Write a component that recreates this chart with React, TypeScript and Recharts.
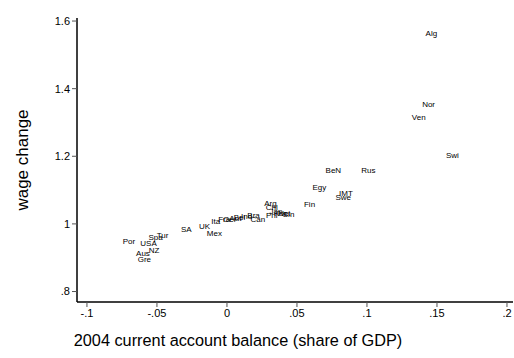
import { ScatterChart, Scatter, XAxis, YAxis } from "recharts";

// country labels with 2004 current account balance and wage change
const countries = [
  "Alg", "Nor", "Ven", "Swi", "BeN", "Rus", "Egy", "IMT", "Swe", "Fin",
  "Arg", "Chl", "Jap", "Kor", "Net", "Sin", "Phi", "Can", "Bra", "Ind",
  "Bel", "Aut", "Ger", "Fra", "Ita", "UK", "Mex", "SA", "Tur", "Spa",
  "Por", "USA", "NZ", "Aus", "Gre",
];
const balance = [
  0.146, 0.144, 0.137, 0.161, 0.076, 0.101, 0.066, 0.085, 0.083, 0.059,
  0.031, 0.032, 0.035, 0.038, 0.041, 0.044, 0.032, 0.022, 0.019, 0.014,
  0.009, 0.006, 0.002, -0.002, -0.008, -0.016, -0.009, -0.029, -0.046, -0.051,
  -0.07, -0.056, -0.052, -0.06, -0.059,
];
const wageChange = [
  1.565, 1.355, 1.317, 1.204, 1.16, 1.16, 1.109, 1.092, 1.08, 1.059,
  1.062, 1.05, 1.038, 1.033, 1.033, 1.03, 1.027, 1.015, 1.027, 1.024,
  1.021, 1.018, 1.015, 1.015, 1.009, 0.994, 0.973, 0.985, 0.967, 0.962,
  0.95, 0.944, 0.923, 0.914, 0.896,
];

const xTicks = [-0.1, -0.05, 0, 0.05, 0.1, 0.15, 0.2];
const yTicks = [0.8, 1, 1.2, 1.4, 1.6];

const data = countries.map((name, i) => ({ name, x: balance[i], y: wageChange[i] }));

// stata style: drop leading zero
const fmt = (v: number) => {
  if (v === 0) return "0";
  return String(v).replace(/^(-?)0\./, "$1.");
};

const font = "'Liberation Sans', Arial, Helvetica, sans-serif";

function LabelMark(props: any) {
  const { cx, cy, payload } = props;
  return (
    <text x={cx} y={cy} dy="0.35em" textAnchor="middle" fontSize={8} fill="#000" fontFamily={font}>
      {payload.name}
    </text>
  );
}

const XTitle = () => (
  <text x={238} y={346} textAnchor="middle" fontSize={16.3} fill="#000" fontFamily={font}>
    2004 current account balance (share of GDP)
  </text>
);

const YTitle = () => (
  <text
    x={22}
    y={160}
    transform="rotate(-90 22 160)"
    textAnchor="middle"
    dominantBaseline="central"
    fontSize={17}
    fill="#000"
    fontFamily={font}
  >
    wage change
  </text>
);

export default function App() {
  return (
    <div style={{ position: "absolute", left: 0, top: 0, background: "#fff" }}>
      <ScatterChart width={514} height={358} margin={{ top: 18, right: 1, bottom: 0, left: 0 }}>
        <XAxis
          type="number"
          dataKey="x"
          height={56}
          domain={[-0.1071, 0.2043]}
          ticks={xTicks}
          tickFormatter={fmt}
          allowDataOverflow
          stroke="#000"
          strokeWidth={1.5}
          tickSize={5}
          tick={{ fill: "#000", fontSize: 11, fontFamily: font }}
          tickLine={{ stroke: "#555", strokeWidth: 1 }}
          label={<XTitle />}
        />
        <YAxis
          type="number"
          dataKey="y"
          width={77}
          domain={[0.769, 1.609]}
          ticks={yTicks}
          tickFormatter={fmt}
          allowDataOverflow
          stroke="#000"
          strokeWidth={1.5}
          tickSize={5}
          tick={{ fill: "#000", fontSize: 11, fontFamily: font }}
          tickLine={{ stroke: "#555", strokeWidth: 1 }}
          label={<YTitle />}
        />
        <Scatter data={data} shape={LabelMark} isAnimationActive={false} />
      </ScatterChart>
    </div>
  );
}
